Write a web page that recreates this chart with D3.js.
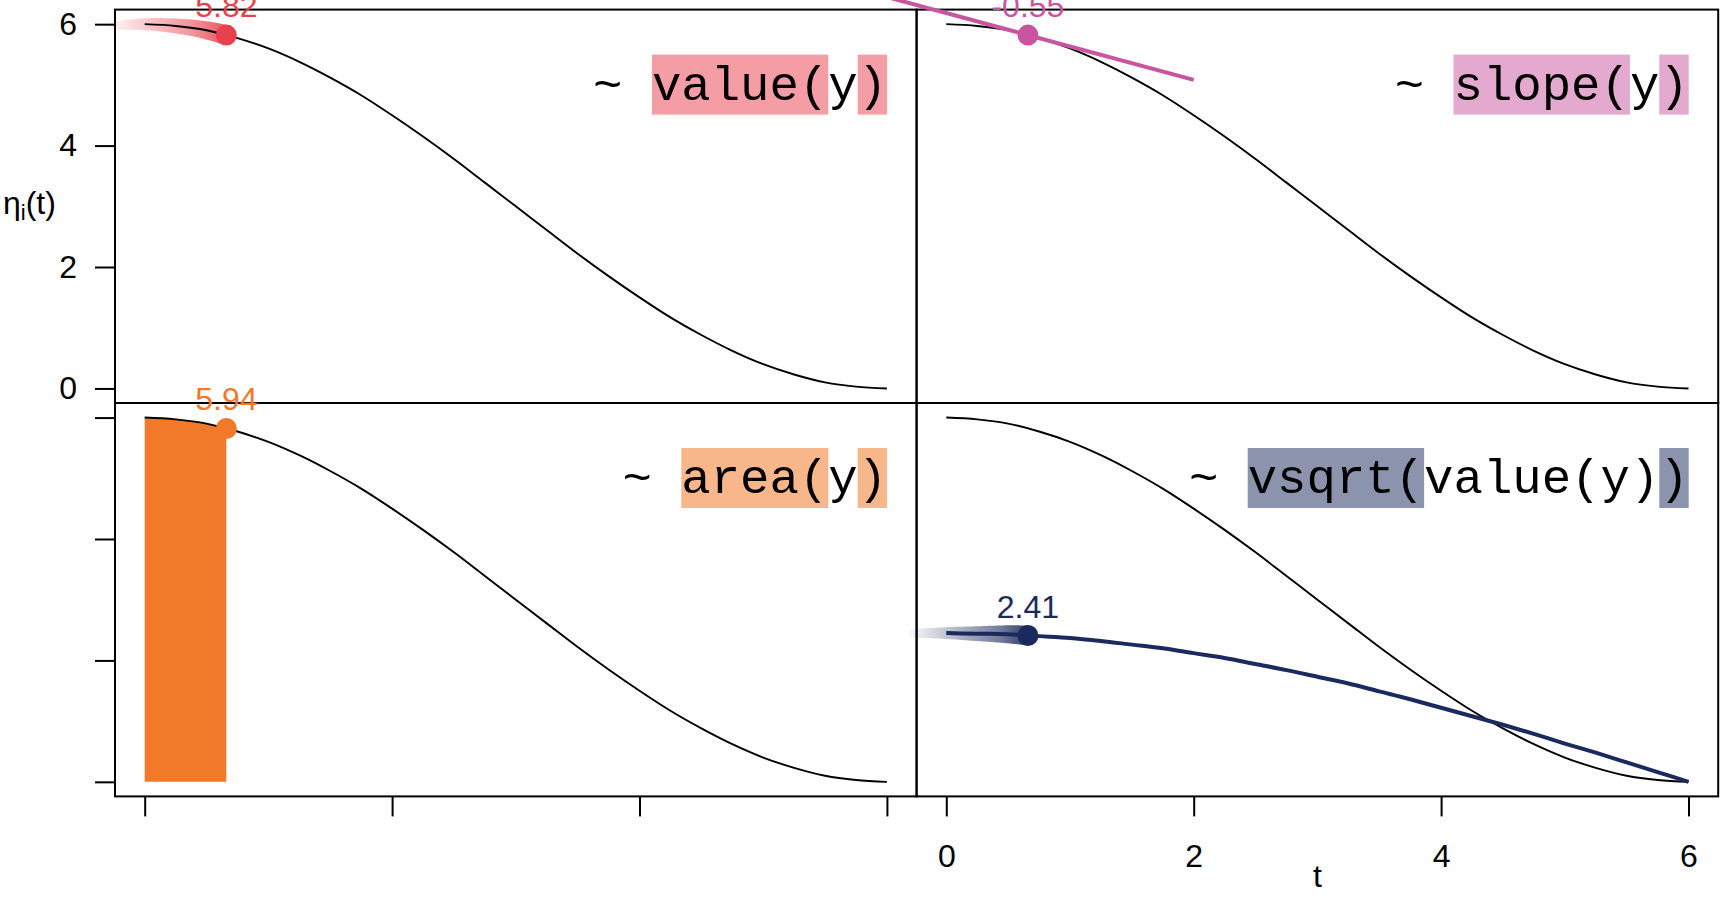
<!DOCTYPE html>
<html><head><meta charset="utf-8">
<script src="https://cdn.jsdelivr.net/npm/d3@7"></script>
<style>html,body{margin:0;padding:0;background:#fff;} svg{display:block;}</style>
</head><body><svg id="chart" width="1728" height="912"></svg>
<script>
// ---- data ----
const tValues     = [0, 0.25, 0.5, 0.75, 1, 1.25, 1.5, 1.75, 2, 2.25, 2.5, 2.75, 3, 3.25, 3.5, 3.75, 4, 4.25, 4.5, 4.75, 5, 5.25, 5.5, 5.75, 6];
const curveValues = [6.00, 5.97, 5.90, 5.77, 5.60, 5.38, 5.12, 4.83, 4.50, 4.15, 3.78, 3.39, 3.00, 2.61, 2.22, 1.85, 1.50, 1.17, 0.88, 0.62, 0.40, 0.23, 0.10, 0.03, 0.00];
const sqrtValues  = [2.45, 2.44, 2.43, 2.40, 2.37, 2.32, 2.26, 2.20, 2.12, 2.04, 1.94, 1.84, 1.73, 1.62, 1.49, 1.36, 1.22, 1.08, 0.94, 0.79, 0.63, 0.48, 0.32, 0.16, 0.00];
const markerT = 0.66;
const markerValue = 5.82;
const markerSqrt = 2.41;
const slopeValue = -0.55;
const tangentT = [-0.68, 2.0];
const trailT     = [-0.30, -0.15, 0, 0.25, 0.50, 0.66];
const trailValue = [5.96, 5.99, 6.00, 5.97, 5.90, 5.82];
const trailSqrt  = [2.44, 2.45, 2.45, 2.44, 2.43, 2.41];
const panelNames  = ["value", "slope", "area", "vsqrt"];
const panelLabels = ["5.82", "-0.55", "5.94", "2.41"];
const formulaTokens = [
  [["~ ", 0], ["value(", 1], ["y", 0], [")", 1]],
  [["~ ", 0], ["slope(", 1], ["y", 0], [")", 1]],
  [["~ ", 0], ["area(", 1], ["y", 0], [")", 1]],
  [["~ ", 0], ["vsqrt(", 1], ["value(y)", 0], [")", 1]]
];
const panelColors = ["#E8414E", "#C8559F", "#F0792A", "#1B2A5E"];
const boxColors   = ["#F49DA5", "#E3A9CE", "#F8B68B", "#8C93AD"];
const tickValues = [0, 2, 4, 6];
const tickLabels = ["0", "2", "4", "6"];
const domainT = [-0.24, 6.24];
const domainY = [-0.24, 6.24];

// ---- layout ----
const L = 115, T = 9.6, PW = 801.6, PH = 393.4;
const sansFont = "'Liberation Sans', Arial, Helvetica, sans-serif";
const monoFont = "'Liberation Mono', 'Courier New', monospace";
const fs = 32, monoFs = 49, charW = monoFs * 0.6;

const svg = d3.select("#chart");
const defs = svg.append("defs");
const layerUnder = svg.append("g");
const layerBorder = svg.append("g");
const layerOver = svg.append("g");

const curveData = tValues.map((t, i) => [t, curveValues[i]]);
const sqrtData = tValues.map((t, i) => [t, sqrtValues[i]]);

function scalesFor(i) {
  const col = i % 2, row = Math.floor(i / 2);
  const x = d3.scaleLinear().domain(domainT).range([L + col * PW, L + (col + 1) * PW]);
  const y = d3.scaleLinear().domain(domainY).range([T + (row + 1) * PH, T + row * PH]);
  return {x, y, col, row};
}

function drawTrail(g, x, y, ts, vs, color, id) {
  const line = d3.line().x(d => x(d[0])).y(d => y(d[1])).curve(d3.curveMonotoneX);
  const tmp = g.append("path").attr("d", line(ts.map((t, i) => [t, vs[i]]))).attr("fill", "none").attr("stroke", "none");
  const node = tmp.node();
  const len = node.getTotalLength();
  const n = 60;
  const pts = d3.range(n + 1).map(k => node.getPointAtLength(len * k / n));
  const upper = [], lower = [];
  pts.forEach((p, k) => {
    const a = pts[Math.max(0, k - 1)], b = pts[Math.min(n, k + 1)];
    let dx = b.x - a.x, dy = b.y - a.y; const m = Math.hypot(dx, dy) || 1;
    const nx = -dy / m, ny = dx / m;
    const s = k / n;
    const w = (8 + 12 * s) / 2;
    upper.push([p.x + nx * w, p.y + ny * w]);
    lower.push([p.x - nx * w, p.y - ny * w]);
  });
  tmp.remove();
  const grad = defs.append("linearGradient").attr("id", id)
    .attr("gradientUnits", "userSpaceOnUse")
    .attr("x1", pts[0].x).attr("y1", 0).attr("x2", pts[n].x).attr("y2", 0);
  grad.append("stop").attr("offset", 0).attr("stop-color", color).attr("stop-opacity", 0.03);
  grad.append("stop").attr("offset", 0.35).attr("stop-color", color).attr("stop-opacity", 0.3);
  grad.append("stop").attr("offset", 0.75).attr("stop-color", color).attr("stop-opacity", 0.6);
  grad.append("stop").attr("offset", 1).attr("stop-color", color).attr("stop-opacity", 0.9);
  g.append("path").attr("d", d3.line()(upper.concat(lower.reverse())) + "Z")
    .attr("fill", `url(#${id})`);
}

panelNames.forEach((name, i) => {
  const {x, y, col, row} = scalesFor(i);
  const color = panelColors[i];
  const line = d3.line().x(d => x(d[0])).y(d => y(d[1])).curve(d3.curveMonotoneX);
  const g = layerUnder.append("g");
  const go = layerOver.append("g");

  if (name === "area") {
    const areaData = curveData.filter(d => d[0] < markerT).concat([[markerT, markerValue]]);
    g.append("path")
      .attr("d", d3.area().x(d => x(d[0])).y0(y(0)).y1(d => y(d[1])).curve(d3.curveMonotoneX)(areaData))
      .attr("fill", color);
  }
  if (name === "value") drawTrail(g, x, y, trailT, trailValue, color, "trail-value");

  g.append("path").attr("d", line(curveData)).attr("fill", "none")
    .attr("stroke", "#000").attr("stroke-width", 1.9);

  if (name === "vsqrt") {
    drawTrail(g, x, y, trailT, trailSqrt, color, "trail-vsqrt");
    g.append("path").attr("d", line(sqrtData)).attr("fill", "none")
      .attr("stroke", color).attr("stroke-width", 4);
  }
  if (name === "slope") {
    go.append("path")
      .attr("d", d3.line().x(d => x(d)).y(d => y(markerValue + slopeValue * (d - markerT)))(tangentT))
      .attr("fill", "none").attr("stroke", color).attr("stroke-width", 4);
  }

  const py = name === "vsqrt" ? markerSqrt : markerValue;
  go.append("circle").attr("cx", x(markerT)).attr("cy", y(py)).attr("r", 10.5).attr("fill", color);
  go.append("text").attr("x", x(markerT)).attr("y", y(py) - 18)
    .attr("text-anchor", "middle").attr("font-family", sansFont).attr("font-size", fs)
    .attr("fill", color).text(panelLabels[i]);

  // formula
  const toks = formulaTokens[i];
  const nChars = d3.sum(toks, d => d[0].length);
  const right = L + (col + 1) * PW - 29.5;
  const top = T + row * PH;
  let start = right - nChars * charW;
  const fg = g.append("g");
  let off = 0;
  toks.forEach(([s, hl]) => {
    if (hl) fg.append("rect").attr("x", start + off * charW).attr("y", top + 45)
      .attr("width", s.length * charW).attr("height", 60).attr("fill", boxColors[i]);
    off += s.length;
  });
  off = 0;
  toks.forEach(([s]) => {
    fg.append("text").attr("x", start + off * charW).attr("y", top + 90)
      .attr("font-family", monoFont).attr("font-size", monoFs).attr("fill", "#000")
      .attr("xml:space", "preserve").style("white-space", "pre").text(s);
    off += s.length;
  });

  layerBorder.append("rect").attr("x", L + col * PW).attr("y", T + row * PH)
    .attr("width", PW).attr("height", PH).attr("fill", "none")
    .attr("stroke", "#000").attr("stroke-width", 2);
});

// axes
function styleAxis(sel) {
  sel.select(".domain").remove();
  sel.selectAll(".tick line").attr("stroke", "#000").attr("stroke-width", 2);
  sel.selectAll(".tick text").attr("font-family", sansFont).attr("font-size", fs).attr("fill", "#000");
}
[0, 2].forEach(i => {
  const {y, row} = scalesFor(i);
  const ax = d3.axisLeft(y).tickValues(tickValues).tickSize(20).tickPadding(18)
    .tickFormat((d, k) => row === 0 ? tickLabels[k] : "");
  layerBorder.append("g").attr("transform", `translate(${L},0)`).call(ax).call(styleAxis);
});
[2, 3].forEach(i => {
  const {x, col} = scalesFor(i);
  const ax = d3.axisBottom(x).tickValues(tickValues).tickSize(20).tickPadding(28)
    .tickFormat((d, k) => col === 1 ? tickLabels[k] : "");
  layerBorder.append("g").attr("transform", `translate(0,${T + 2 * PH})`).call(ax).call(styleAxis);
});

svg.append("text").attr("x", L + 1.5 * PW).attr("y", 887).attr("text-anchor", "middle")
  .attr("font-family", sansFont).attr("font-size", fs).text("t");
const yl = svg.append("text").attr("x", 3).attr("y", 214)
  .attr("font-family", sansFont).attr("font-size", fs);
yl.append("tspan").text("η");
yl.append("tspan").attr("font-size", 22).attr("dy", 6).text("i");
yl.append("tspan").attr("dy", -6).text("(t)");
</script></body></html>
